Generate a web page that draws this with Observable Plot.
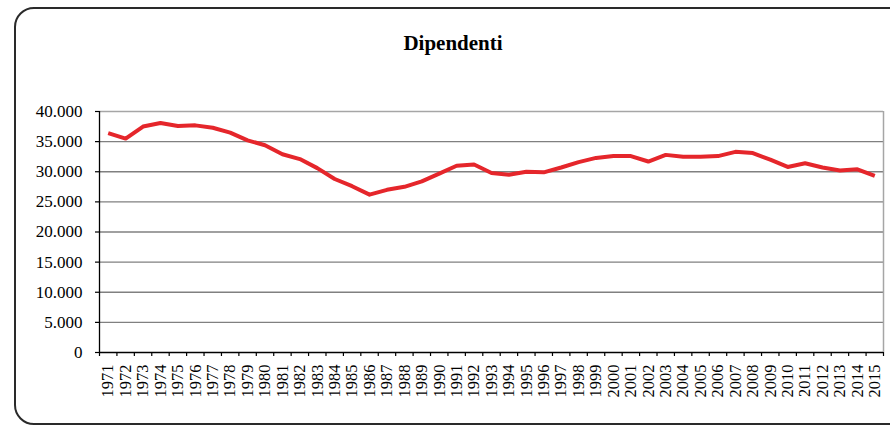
<!DOCTYPE html>
<html>
<head>
<meta charset="utf-8">
<script src="https://cdn.jsdelivr.net/npm/d3@7"></script>
<script src="https://cdn.jsdelivr.net/npm/@observablehq/plot@0.6"></script>
<style>
  html, body { margin: 0; padding: 0; background: #fff; }
  #wrap { position: relative; width: 890px; height: 430px; overflow: hidden; font-family: "Liberation Serif", "DejaVu Serif", serif; }
  #frame { position: absolute; left: 14px; top: 7px; width: 920px; height: 418px; border: 2px solid #2a2a2a; border-radius: 20px; box-sizing: border-box; }
  #title { position: absolute; left: 0; width: 906px; top: 31px; text-align: center; font-weight: bold; font-size: 21px; color: #000; }
  #chart { position: absolute; left: 0; top: 0; }
  #chart svg, #chart svg text { font-family: "Liberation Serif", "DejaVu Serif", serif !important; }
</style>
</head>
<body>
<div id="wrap">
  <div id="frame"></div>
  <div id="title">Dipendenti</div>
  <div id="chart"></div>
</div>
<script>
const years = [1971,1972,1973,1974,1975,1976,1977,1978,1979,1980,1981,1982,1983,1984,1985,1986,1987,1988,1989,1990,1991,1992,1993,1994,1995,1996,1997,1998,1999,2000,2001,2002,2003,2004,2005,2006,2007,2008,2009,2010,2011,2012,2013,2014,2015];
const dipendenti = [36400,35500,37500,38100,37600,37700,37300,36500,35200,34400,32900,32100,30600,28800,27600,26200,27000,27500,28400,29700,31000,31200,29800,29500,30000,29900,30700,31600,32300,32600,32600,31700,32800,32500,32500,32600,33300,33100,32000,30800,31400,30700,30200,30400,29300];
const yTicks = [0,5000,10000,15000,20000,25000,30000,35000,40000];

const data = years.map((y, i) => ({year: y, value: dipendenti[i]}));
const boundaries = [years[0] - 0.5, ...years.map(y => y + 0.5)];
const itFmt = d3.formatLocale({decimal: ",", thousands: ".", grouping: [3], currency: ["", "€"]}).format(",");
const grid = yTicks.filter(t => t > 0 && t < 40000);
const serif = "Liberation Serif";

const chart = Plot.plot({
  width: 890,
  height: 430,
  marginLeft: 99,
  marginRight: 7,
  marginTop: 111,
  marginBottom: 78,
  style: {fontFamily: serif, background: "transparent", color: "#000"},
  x: {type: "linear", domain: [boundaries[0], boundaries[boundaries.length - 1]]},
  y: {domain: [0, 40000]},
  marks: [
    Plot.ruleY(grid, {stroke: "#808080", strokeWidth: 1.3, strokeOpacity: 1}),
    Plot.ruleY([40000], {stroke: "#a6a6a6", strokeWidth: 1.5, strokeOpacity: 1}),
    Plot.ruleX([boundaries[boundaries.length - 1]], {stroke: "#a6a6a6", strokeWidth: 1.5, strokeOpacity: 1}),
    Plot.axisY({ticks: yTicks, tickSize: 4, tickPadding: 13, tickFormat: itFmt, fontSize: 17, fontFamily: serif, label: null, stroke: "#000", strokeWidth: 1.2}),
    Plot.axisX({ticks: boundaries, tickSize: 4, tickFormat: () => "", label: null, stroke: "#000", strokeWidth: 1.2}),
    Plot.axisX({ticks: years, tickSize: 0, tickPadding: 12, tickRotate: -90, tickFormat: d => String(d), fontSize: 16.5, fontFamily: serif, label: null}),
    Plot.ruleX([boundaries[0]], {stroke: "#000", strokeWidth: 1.3}),
    Plot.ruleY([0], {stroke: "#000", strokeWidth: 1.3}),
    Plot.line(data, {x: "year", y: "value", stroke: "#e5262b", strokeWidth: 4, strokeLinejoin: "round", strokeLinecap: "butt"})
  ]
});
document.getElementById("chart").appendChild(chart);
</script>
</body>
</html>
